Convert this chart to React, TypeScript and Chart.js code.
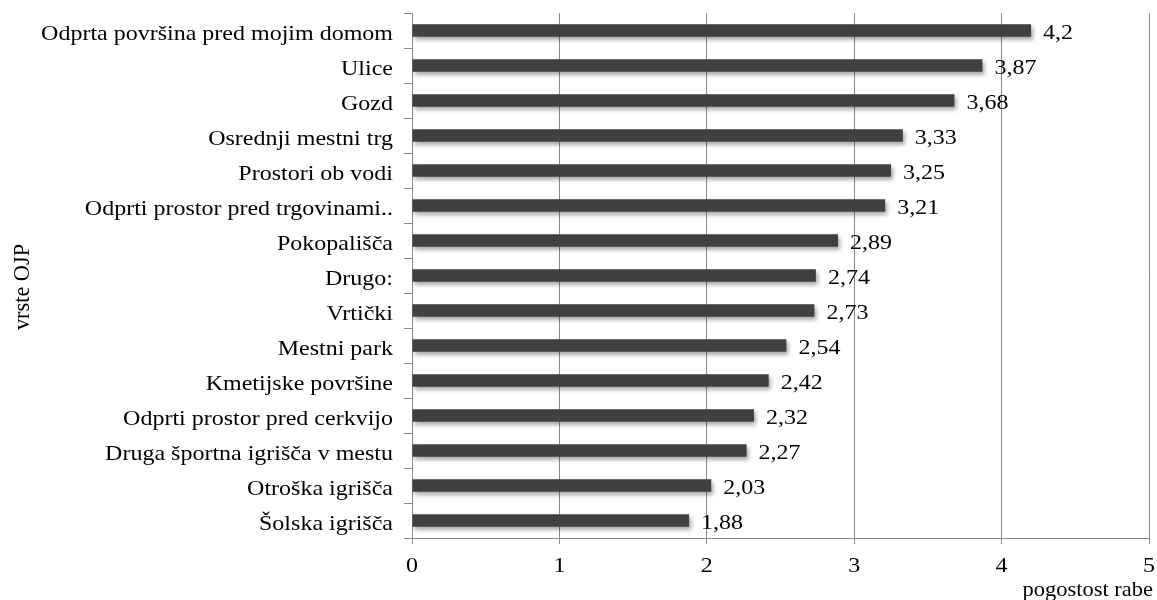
import React, { useEffect, useRef } from "react";
import { Chart, registerables } from "chart.js";

Chart.register(...registerables);

const categories = [
  "Odprta površina pred mojim domom",
  "Ulice",
  "Gozd",
  "Osrednji mestni trg",
  "Prostori ob vodi",
  "Odprti prostor pred trgovinami..",
  "Pokopališča",
  "Drugo:",
  "Vrtički",
  "Mestni park",
  "Kmetijske površine",
  "Odprti prostor pred cerkvijo",
  "Druga športna igrišča v mestu",
  "Otroška igrišča",
  "Šolska igrišča",
];

const values = [4.2, 3.87, 3.68, 3.33, 3.25, 3.21, 2.89, 2.74, 2.73, 2.54, 2.42, 2.32, 2.27, 2.03, 1.88];

const xTicks = [0, 1, 2, 3, 4, 5];
const xTitle = "pogostost rabe";
const yTitle = "vrste OJP";

const FONT = '"Liberation Serif", "Times New Roman", serif';
const W = 1157;
const H = 600;

function drawText(
  ctx: CanvasRenderingContext2D,
  text: string,
  x: number,
  y: number,
  align: CanvasTextAlign,
  size: number,
  squash: number,
  rotate = false
) {
  ctx.save();
  ctx.translate(x, y);
  ctx.scale(1, squash);
  if (rotate) ctx.rotate(-Math.PI / 2);
  ctx.font = `${size}px ${FONT}`;
  ctx.textAlign = align;
  ctx.textBaseline = "alphabetic";
  ctx.fillStyle = "#000";
  ctx.fillText(text, 0, 0);
  ctx.restore();
}

const shadowPlugin = {
  id: "barShadow",
  beforeDatasetsDraw(chart: any) {
    const ctx = chart.ctx;
    ctx.save();
    ctx.shadowColor = "rgba(0,0,0,0.35)";
    ctx.shadowBlur = 4;
    ctx.shadowOffsetX = 2;
    ctx.shadowOffsetY = 3;
  },
  afterDatasetsDraw(chart: any) {
    chart.ctx.restore();
  },
};

const textPlugin = {
  id: "texts",
  afterDraw(chart: any) {
    const ctx = chart.ctx as CanvasRenderingContext2D;
    const area = chart.chartArea;
    const xs = chart.scales.x;
    const ys = chart.scales.y;
    // category labels
    categories.forEach((c, i) => {
      const y = ys.getPixelForValue(i);
      drawText(ctx, c, area.left - 19, y + 9, "right", 24, 0.9);
    });
    // value labels
    const meta = chart.getDatasetMeta(0);
    meta.data.forEach((bar: any, i: number) => {
      const txt = String(values[i]).replace(".", ",");
      drawText(ctx, txt, bar.x + 12, bar.y + 8.5, "left", 24, 0.88);
    });
    // x tick labels
    xTicks.forEach((v) => {
      drawText(ctx, String(v), xs.getPixelForValue(v), 572, "center", 24, 0.88);
    });
    // axis titles
    drawText(ctx, xTitle, area.right + 4, 596, "right", 22.5, 0.92);
    drawText(ctx, yTitle, 29, 287 + 0, "center", 23, 0.97, true);
  },
};

export default function App() {
  const ref = useRef<HTMLCanvasElement | null>(null);
  useEffect(() => {
    if (!ref.current) return;
    const chart = new Chart(ref.current, {
      type: "bar",
      data: {
        labels: categories,
        datasets: [
          {
            data: values,
            backgroundColor: "#404040",
            borderWidth: 0,
            barPercentage: 0.6,
            categoryPercentage: 0.6,
          },
        ],
      },
      options: {
        indexAxis: "y",
        responsive: false,
        animation: false,
        events: [],
        layout: { padding: { top: 13, right: 8, left: 0, bottom: 0 } },
        plugins: {
          legend: { display: false },
          tooltip: { enabled: false },
          title: { display: false },
        },
        scales: {
          x: {
            type: "linear",
            min: 0,
            max: 5,
            afterBuildTicks(scale: any) {
              scale.ticks = xTicks.map((v) => ({ value: v }));
            },
            afterFit(scale: any) {
              scale.height = 62;
            },
            grid: {
              color: "#8a8a8a",
              lineWidth: 1,
              drawTicks: true,
              tickLength: 6,
            },
            border: { color: "#8a8a8a", width: 1 },
            ticks: { display: false },
          },
          y: {
            type: "category",
            afterFit(scale: any) {
              scale.width = 412;
            },
            grid: {
              display: true,
              drawOnChartArea: false,
              drawTicks: true,
              tickLength: 8,
              color: "#8a8a8a",
              offset: true,
            },
            border: { color: "#8a8a8a", width: 1 },
            ticks: { display: false, autoSkip: false },
          },
        },
      },
      plugins: [shadowPlugin, textPlugin],
    } as any);
    return () => chart.destroy();
  }, []);
  return (
    <div style={{ position: "absolute", left: 0, top: 0, width: W, height: H, background: "#fff" }}>
      <canvas ref={ref} width={W} height={H} style={{ display: "block", width: W, height: H }} />
    </div>
  );
}
